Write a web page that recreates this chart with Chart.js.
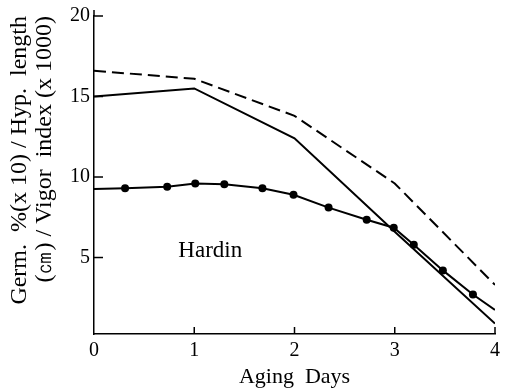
<!DOCTYPE html>
<html>
<head>
<meta charset="utf-8">
<script src="https://cdn.jsdelivr.net/npm/chart.js@4/dist/chart.umd.min.js"></script>
<style>
  html, body { margin: 0; padding: 0; background: #fff; }
  canvas { display: block; }
</style>
</head>
<body>
<canvas id="agingChart" width="511" height="392"></canvas>
<script>
// Data (Hardin)
const days = [0, 1, 2, 3, 4];
const germination = [16.6, 16.1, 13.8, 9.6, 3.3];      // dashed
const hypLength = [15.0, 15.5, 12.4, 6.6, 0.9];        // solid
const vigorDays = [0, 0.31, 0.73, 1.01, 1.30, 1.68, 1.99, 2.34, 2.72, 2.99, 3.19, 3.48, 3.78, 4.0];
const vigorIndex = [9.25, 9.3, 9.4, 9.6, 9.55, 9.3, 8.9, 8.1, 7.35, 6.85, 5.8, 4.2, 2.7, 1.75];
const xTickValues = [0, 1, 2, 3, 4];
const yTickValues = [5, 10, 15, 20];
const yTitle = ['Germ.  %(x 10) / Hyp.  length', '(\u339D) / Vigor  index (x 1000)'];
const xTitle = 'Aging  Days';
const cultivar = 'Hardin';

const serif = '"Liberation Serif", "DejaVu Serif", serif';

function toPoints(xs, ys) {
    return xs.map((x, i) => ({ x: x, y: ys[i] }));
}

// inward tick marks, axis stub above 20, and the cultivar label
const extrasPlugin = {
    id: 'extras',
    afterDraw(chart) {
        const ctx = chart.ctx;
        const xs = chart.scales.x;
        const ys = chart.scales.y;
        const area = chart.chartArea;
        ctx.save();
        ctx.strokeStyle = '#000';
        ctx.lineWidth = 1.5;
        ctx.beginPath();
        ctx.moveTo(area.left, area.top);
        ctx.lineTo(area.left, area.top - 6);
        ctx.stroke();
        yTickValues.forEach(v => {
            const py = ys.getPixelForValue(v);
            ctx.beginPath();
            ctx.moveTo(area.left, py);
            ctx.lineTo(area.left + 9, py);
            ctx.stroke();
        });
        xTickValues.slice(1).forEach(v => {
            const px = xs.getPixelForValue(v);
            ctx.beginPath();
            ctx.moveTo(px, area.bottom);
            ctx.lineTo(px, area.bottom - 7);
            ctx.stroke();
        });
        ctx.fillStyle = '#000';
        ctx.font = '23px ' + serif;
        ctx.textAlign = 'center';
        ctx.textBaseline = 'middle';
        ctx.fillText(cultivar, xs.getPixelForValue(1.16), ys.getPixelForValue(5.4));
        ctx.restore();
    }
};

const ctx = document.getElementById('agingChart').getContext('2d');
const agingChart = new Chart(ctx, {
    type: 'line',
    data: {
        datasets: [
            {
                label: 'Germination',
                data: toPoints(days, germination),
                borderColor: '#000',
                borderWidth: 2,
                borderDash: [12, 6],
                pointRadius: 0,
                tension: 0,
                fill: false
            },
            {
                label: 'Hypocotyl length',
                data: toPoints(days, hypLength),
                borderColor: '#000',
                borderWidth: 2,
                pointRadius: 0,
                tension: 0,
                fill: false
            },
            {
                label: 'Vigor index',
                data: toPoints(vigorDays, vigorIndex),
                borderColor: '#000',
                backgroundColor: '#000',
                borderWidth: 2,
                pointRadius: vigorDays.map((d, i) => (i === 0 || i === vigorDays.length - 1) ? 0 : 4),
                pointBorderWidth: 0,
                tension: 0,
                fill: false
            }
        ]
    },
    options: {
        responsive: false,
        animation: false,
        layout: {
            padding: { top: 14, right: 16, left: 0, bottom: 0 }
        },
        plugins: {
            legend: { display: false },
            tooltip: { enabled: false }
        },
        scales: {
            x: {
                type: 'linear',
                min: 0,
                max: 4,
                afterBuildTicks: scale => { scale.ticks = xTickValues.map(v => ({ value: v })); },
                afterFit: scale => { scale.height = 58; },
                grid: { drawOnChartArea: false, drawTicks: false },
                border: { color: '#000', width: 1.5 },
                ticks: {
                    color: '#000',
                    padding: 5,
                    maxRotation: 0,
                    font: { family: serif, size: 20 }
                },
                title: {
                    display: true,
                    text: xTitle,
                    color: '#000',
                    padding: { top: 0, bottom: 2 },
                    font: { family: serif, size: 22 }
                }
            },
            y: {
                min: 0.25,
                max: 20,
                afterBuildTicks: scale => { scale.ticks = yTickValues.map(v => ({ value: v })); },
                afterFit: scale => { scale.width = 94; },
                grid: { drawOnChartArea: false, drawTicks: false },
                border: { color: '#000', width: 1.5 },
                ticks: {
                    color: '#000',
                    padding: 4,
                    font: { family: serif, size: 20 }
                },
                title: {
                    display: true,
                    text: yTitle,
                    align: 'end',
                    color: '#000',
                    padding: { top: 7, bottom: 0 },
                    font: { family: serif, size: 24, lineHeight: 1.05 }
                }
            }
        }
    },
    plugins: [extrasPlugin]
});
</script>
</body>
</html>
